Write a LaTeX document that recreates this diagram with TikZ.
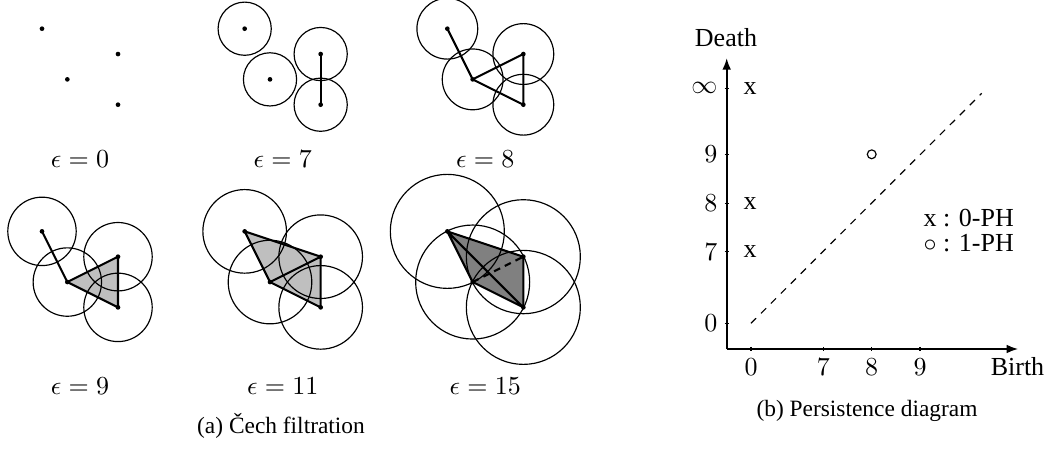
\documentclass[tikz,border=0pt]{standalone}
\usepackage{fontspec}
\setmainfont{Liberation Serif}
\usetikzlibrary{arrows.meta}
\tikzset{
  circ/.style={line width=0.45pt},
  edge/.style={line width=0.8pt},
  lightfill/.style={fill=black!25},
  darkfill/.style={fill=black!50},
  epslab/.style={anchor=base, inner sep=0pt, font=\fontsize{10}{12}\selectfont},
  caplab/.style={anchor=base, inner sep=0pt, font=\fontsize{9}{11}\selectfont},
  axisline/.style={line width=0.8pt, -{Latex[length=4.5pt,width=3.4pt]}},
  tickline/.style={line width=0.45pt},
  lab/.style={inner sep=0pt, font=\fontsize{10}{12}\selectfont},
  unitu/.style={x=9.744pt, y=-9.744pt},
}
\newcommand\mypts[1]{%
  \coordinate (#1A) at (0,0);
  \coordinate (#1B) at (3,1);
  \coordinate (#1C) at (1,2);
  \coordinate (#1D) at (3,3);}
\newcommand\mydots[1]{\foreach \p in {A,B,C,D}{\fill (#1\p) circle (0.9pt);}}
\newcommand\mycircles[2]{\foreach \p in {A,B,C,D}{\draw[circ] (#1\p) circle (#2);}}
\begin{document}
\begin{tikzpicture}[x=0.38462pt, y=-0.38462pt]
\useasboundingbox (0,0) rectangle (1048,450);

% ---- panel eps = 0
\begin{scope}[shift={(42,28.7)}]\begin{scope}[unitu]
  \mypts{a}
  \mydots{a}
\end{scope}\end{scope}
% ---- panel eps = 7
\begin{scope}[shift={(244.67,28.7)}]\begin{scope}[unitu]
  \mypts{b}
  \mycircles{b}{1.05}
  \draw[edge] (bB) -- (bD);
  \mydots{b}
\end{scope}\end{scope}
% ---- panel eps = 8
\begin{scope}[shift={(447.33,28.7)}]\begin{scope}[unitu]
  \mypts{c}
  \mycircles{c}{1.2}
  \draw[edge] (cA) -- (cC) (cC) -- (cB) (cC) -- (cD) (cB) -- (cD);
  \mydots{c}
\end{scope}\end{scope}
% ---- panel eps = 9
\begin{scope}[shift={(42,231.37)}]\begin{scope}[unitu]
  \mypts{d}
  \fill[lightfill] (dC) -- (dB) -- (dD) -- cycle;
  \mycircles{d}{1.35}
  \draw[edge] (dA) -- (dC) (dC) -- (dB) (dC) -- (dD) (dB) -- (dD);
  \mydots{d}
\end{scope}\end{scope}
% ---- panel eps = 11
\begin{scope}[shift={(244.67,231.37)}]\begin{scope}[unitu]
  \mypts{e}
  \fill[lightfill] (eA) -- (eB) -- (eD) -- (eC) -- cycle;
  \mycircles{e}{1.65}
  \draw[edge] (eA) -- (eB) (eA) -- (eC) (eC) -- (eB) (eC) -- (eD) (eB) -- (eD);
  \mydots{e}
\end{scope}\end{scope}
% ---- panel eps = 15
\begin{scope}[shift={(447.33,231.37)}]\begin{scope}[unitu]
  \mypts{f}
  \fill[darkfill] (fA) -- (fB) -- (fD) -- (fC) -- cycle;
  \mycircles{f}{2.25}
  \draw[edge] (fA) -- (fB) (fA) -- (fC) (fA) -- (fD) (fC) -- (fD) (fB) -- (fD);
  \draw[edge, dash pattern=on 2.6pt off 2pt] (fC) -- (fB);
  \mydots{f}
\end{scope}\end{scope}

% ---- panel labels
\node[epslab] (l0) at (80,167) {$\epsilon = 0$};
\node[epslab] (l7) at (282.7,167) {$\epsilon = 7$};
\node[epslab] (l8) at (485.3,167) {$\epsilon = 8$};
\node[epslab] (l9) at (80,394) {$\epsilon = 9$};
\node[epslab] (l11) at (282.7,394) {$\epsilon = 11$};
\node[epslab] (l15) at (485.3,394) {$\epsilon = 15$};
\node[caplab] (capa) at (281,433) {(a) Čech filtration};

% ---- persistence diagram
\coordinate (O) at (726.7,349);
\coordinate (Ytop) at (726.7,58);
\coordinate (Xend) at (1018.3,349);
\draw[axisline] (O) -- (Ytop);
\draw[axisline] (O) -- (Xend);
\node[lab, anchor=base] (death) at (726,46.7) {Death};
\node[lab, anchor=base] (birth) at (1017.5,375.7) {Birth};

\foreach \yy/\tx/\nm in {88.3/\infty/yinf, 154.3/9/y9, 203.3/8/y8, 251.7/7/y7, 323.3/0/y0}{
  \draw[tickline] (724.5,\yy) -- (728.9,\yy);
  \node[lab, anchor=east] (\nm) at (718,\yy) {$\tx$};
}
\foreach \xx/\tx/\nm in {751/0/x0, 823.3/7/x7, 871.7/8/x8, 920/9/x9}{
  \draw[tickline] (\xx,346.8) -- (\xx,351.2);
  \node[lab, anchor=base] (\nm) at (\xx,375.7) {$\tx$};
}
\node[lab] (minf) at (750,88.3) {x};
\node[lab] (m8) at (750,203.3) {x};
\node[lab] (m7) at (750,251.7) {x};
\node[circle, draw, line width=0.45pt, inner sep=0pt, minimum size=3.4pt] (p89) at (871.7,154.3) {};

\coordinate (d0) at (751,323.3);
\coordinate (d1) at (981.7,93.3);
\draw[line width=0.45pt, dash pattern=on 2.8pt off 2.6pt] (d0) -- (d1);

\node[lab, anchor=base west, align=left, font=\fontsize{10}{9.35}\selectfont] (legend) at (923,251) {x : 0-PH\\$\circ$ : 1-PH};
\node[caplab] (capb) at (867,416) {(b) Persistence diagram};
\end{tikzpicture}
\end{document}
